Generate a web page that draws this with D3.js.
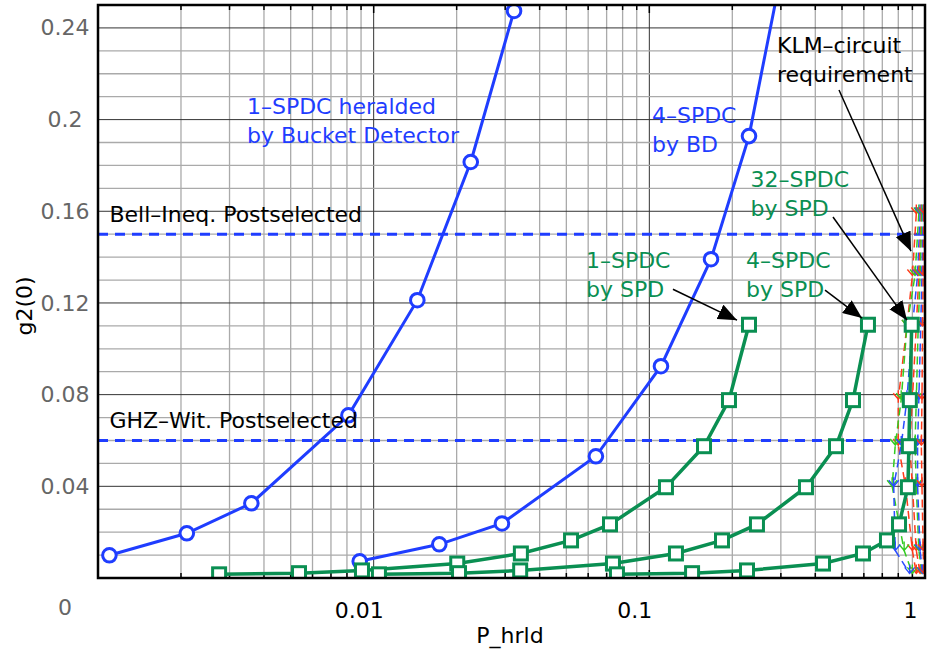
<!DOCTYPE html>
<html>
<head>
  <style>
    body { margin: 0; background: #fff; }
    text { font-family: "DejaVu Sans", sans-serif; font-size: 22px; }
    .minor { stroke: #aaa; stroke-width: 1.3px; }
    .major { stroke: #333; stroke-width: 1px; }
    .frame { fill: none; stroke: #000; stroke-width: 2.5px; }
    .cut { fill: none; stroke-width: 1.5px; stroke-dasharray: 8, 5; }
    .chev { fill: none; stroke-width: 1.4px; }
  </style>
</head>
<body>
  <script src="https://cdn.jsdelivr.net/npm/d3@7"></script>
  <script>
    var width = 928, height = 651;
    var blue = "#1f3dff", green = "#0a8f52";

    // 1-SPDC heralded by bucket detector
    var bd1X = [0.0011, 0.0021, 0.0036, 0.0081, 0.0144, 0.0225, 0.0323];
    var bd1Y = [0.0099, 0.0195, 0.0326, 0.0710, 0.1212, 0.1815, 0.2474];
    // 4-SPDC by BD (last point runs past the top)
    var bd4X = [0.0089, 0.0173, 0.0292, 0.0640, 0.1102, 0.1674, 0.2299, 0.308];
    var bd4Y = [0.0073, 0.0147, 0.0238, 0.0531, 0.0924, 0.1391, 0.1928, 0.27];

    // green squares share the same g2 levels
    var spdY = [0.0016, 0.0021, 0.0033, 0.0063, 0.0107, 0.0164, 0.0234, 0.0396, 0.0575, 0.0776, 0.1105];
    var spd1X = [0.00275, 0.00536, 0.00907, 0.0201, 0.0342, 0.0520, 0.0720, 0.1149, 0.1579, 0.1945, 0.2299];
    var spd4X = [0.01045, 0.0204, 0.0340, 0.0738, 0.1249, 0.1835, 0.2457, 0.370, 0.4755, 0.548, 0.621];
    var spd32X = [0.0763, 0.1429, 0.2261, 0.4266, 0.5957, 0.7278, 0.805, 0.867, 0.874, 0.881, 0.895];

    // dashed cut-off curves crowded near P_hrld = 1
    var cutY = [0.159, 0.132, 0.11, 0.078, 0.058, 0.04, 0.012, 0.002];
    var cutRed1 = [0.93, 0.90, 0.86, 0.80, 0.80, 0.85, 0.90, 0.93];
    var cutRed2 = [0.97, 0.95, 0.93, 0.90, 0.88, 0.90, 0.93, 0.96];
    var cutRed3 = [0.99, 0.985, 0.98, 0.975, 0.97, 0.975, 0.985, 0.99];
    var cutGreen1 = [0.95, 0.92, 0.86, 0.82, 0.78, 0.76, 0.84, 0.90];
    var cutGreen2 = [0.975, 0.96, 0.945, 0.93, 0.92, 0.93, 0.95, 0.975];
    var cutBlue1 = [0.96, 0.94, 0.90, 0.86, 0.82, 0.77, 0.78, 0.88];
    var cutBlue2 = [0.985, 0.975, 0.965, 0.95, 0.94, 0.94, 0.96, 0.98];

    var levels = [0.15, 0.06];
    var levelNames = ["Bell–Ineq. Postselected", "GHZ–Wit. Postselected"];

    var xTicks = [0.01, 0.1, 1];
    var yTicks = [0.04, 0.08, 0.12, 0.16, 0.2, 0.24];

    var svg = d3.select("body").append("svg")
        .attr("width", width)
        .attr("height", height);

    var x = d3.scaleLog().domain([0.001, 1]).range([98, 925]);
    var y = d3.scaleLinear().domain([0, 0.25]).range([578, 5]);

    svg.append("clipPath").attr("id", "clip")
      .append("rect")
        .attr("x", x(0.001)).attr("y", y(0.25))
        .attr("width", x(1) - x(0.001)).attr("height", y(0) - y(0.25));

    // grid
    var isDecade = d => Math.abs(Math.log10(d) - Math.round(Math.log10(d))) < 1e-9;
    var vx = x.ticks().filter(d => d > 0.001 && d < 1);
    svg.append("g").selectAll("line").data(vx).join("line")
        .attr("class", d => isDecade(d) ? "major" : "minor")
        .attr("x1", x).attr("x2", x)
        .attr("y1", y(0)).attr("y2", y(0.25));

    var hy = d3.range(1, 25).map(d => d / 100);
    svg.append("g").selectAll("line").data(hy).join("line")
        .attr("class", d => Math.round(d * 100) % 4 === 0 ? "major" : "minor")
        .attr("x1", x(0.001)).attr("x2", x(1))
        .attr("y1", y).attr("y2", y);

    // small inner ticks on top and bottom
    var tk = svg.append("g").attr("stroke", "#000").attr("stroke-width", 1.5);
    tk.selectAll(".tb").data(vx).join("line")
        .attr("x1", x).attr("x2", x)
        .attr("y1", y(0)).attr("y2", d => y(0) - (isDecade(d) ? 8 : 5));
    tk.selectAll(".tt").data(vx).join("line")
        .attr("x1", x).attr("x2", x)
        .attr("y1", y(0.25)).attr("y2", d => y(0.25) + (isDecade(d) ? 8 : 5));

    var plot = svg.append("g").attr("clip-path", "url(#clip)");

    // postselection levels
    plot.selectAll(".level").data(levels).join("line")
        .attr("x1", x(0.001)).attr("x2", x(1))
        .attr("y1", y).attr("y2", y)
        .attr("stroke", blue).attr("stroke-width", 3)
        .attr("stroke-dasharray", "10,7");

    // dashed cut-off curves
    var cuts = [
      {xs: cutRed1, c: "#ff3a1a"}, {xs: cutGreen1, c: "#33cc22"}, {xs: cutBlue1, c: "#2a4cff"},
      {xs: cutRed2, c: "#ff3a1a"}, {xs: cutGreen2, c: "#33cc22"}, {xs: cutBlue2, c: "#2a4cff"},
      {xs: cutRed3, c: "#ff3a1a"}
    ];
    var line = d3.line().x(d => x(d[0])).y(d => y(d[1]));
    cuts.forEach(function(s) {
      var pts = s.xs.map((v, i) => [v, cutY[i]]);
      plot.append("path").attr("class", "cut").attr("stroke", s.c).attr("d", line(pts));
      plot.append("g").selectAll("path").data(pts).join("path")
          .attr("class", "chev").attr("stroke", s.c)
          .attr("transform", d => "translate(" + x(d[0]) + "," + y(d[1]) + ")")
          .attr("d", "M-5,-6L0,0L5,-6M0,0V-9");
    });

    // circle series
    [[bd1X, bd1Y], [bd4X, bd4Y]].forEach(function(s) {
      var pts = s[0].map((v, i) => [v, s[1][i]]);
      plot.append("path").attr("d", line(pts))
          .attr("fill", "none").attr("stroke", blue).attr("stroke-width", 3);
      plot.append("g").selectAll("circle").data(pts).join("circle")
          .attr("cx", d => x(d[0])).attr("cy", d => y(d[1])).attr("r", 6.8)
          .attr("fill", "#fff").attr("stroke", blue).attr("stroke-width", 3);
    });

    // square series
    [spd1X, spd4X, spd32X].forEach(function(xs) {
      var pts = xs.map((v, i) => [v, spdY[i]]);
      plot.append("path").attr("d", line(pts))
          .attr("fill", "none").attr("stroke", green).attr("stroke-width", 3.5);
    });
    [spd1X, spd4X, spd32X].forEach(function(xs) {
      var pts = xs.map((v, i) => [v, spdY[i]]);
      plot.append("g").selectAll("rect").data(pts).join("rect")
          .attr("x", d => x(d[0]) - 6.5).attr("y", d => y(d[1]) - 6.5)
          .attr("width", 13).attr("height", 13)
          .attr("fill", "#fff").attr("stroke", green).attr("stroke-width", 3);
    });

    svg.append("rect").attr("class", "frame")
        .attr("x", x(0.001)).attr("y", y(0.25))
        .attr("width", x(1) - x(0.001)).attr("height", y(0) - y(0.25));

    // axes
    var xAxis = svg.append("g")
        .attr("transform", "translate(0," + y(0) + ")")
        .call(d3.axisBottom(x).tickValues(xTicks).tickSize(0).tickFormat(d3.format("~g")));
    xAxis.select(".domain").remove();
    xAxis.selectAll("text").attr("dy", 37).attr("dx", -15)
        .attr("fill", "#000").style("font-size", "22px").style("font-family", "DejaVu Sans");

    var yAxis = svg.append("g")
        .attr("transform", "translate(65,0)")
        .call(d3.axisLeft(y).tickValues(yTicks).tickSize(0).tickPadding(0).tickFormat(d3.format("~g")));
    yAxis.select(".domain").remove();
    yAxis.selectAll("text").attr("text-anchor", "middle").attr("fill", "#666")
        .style("font-size", "22px").style("font-family", "DejaVu Sans");

    svg.append("text").attr("x", 65).attr("y", y(0) + 37)
        .attr("text-anchor", "middle").attr("fill", "#666").text("0");

    svg.append("text").attr("x", 510).attr("y", 643)
        .attr("text-anchor", "middle").text("P_hrld");
    svg.append("text").attr("transform", "translate(32,306) rotate(-90)")
        .attr("text-anchor", "middle").text("g2(0)");

    // level labels
    svg.selectAll(".lvl").data(levels).join("text")
        .attr("x", x(0.0011)).attr("y", d => y(d) - 12)
        .text((d, i) => levelNames[i]);

    // annotations (data coordinates of the first line's baseline)
    var notes = [
      {lines: ["1–SPDC heralded", "by Bucket Detector"], x: 0.00347, y: 0.2024, c: blue},
      {lines: ["4–SPDC", "by BD"], x: 0.1022, y: 0.1985, c: blue},
      {lines: ["32–SPDC", "by SPD"], x: 0.233, y: 0.1706, c: green},
      {lines: ["1–SPDC", "by SPD"], x: 0.0589, y: 0.1352, c: green},
      {lines: ["4–SPDC", "by SPD"], x: 0.2242, y: 0.1352, c: green},
      {lines: ["KLM–circuit", "requirement"], x: 0.2904, y: 0.2291, c: "#000"}
    ];
    notes.forEach(function(n) {
      var t = svg.append("text").attr("fill", n.c)
          .attr("x", x(n.x)).attr("y", y(n.y));
      n.lines.forEach(function(s, i) {
        t.append("tspan").attr("x", x(n.x)).attr("dy", i ? 29 : 0).text(s);
      });
    });

    svg.append("defs").append("marker")
        .attr("id", "head").attr("markerUnits", "userSpaceOnUse")
        .attr("markerWidth", 20).attr("markerHeight", 16)
        .attr("refX", 19).attr("refY", 8).attr("orient", "auto")
      .append("path").attr("d", "M0,0L19,8L0,16Z").attr("fill", "#000");

    var arrows = [
      [[0.1218, 0.126], [0.208, 0.1125]],
      [[0.4338, 0.1256], [0.5907, 0.1134]],
      [[0.4637, 0.1575], [0.860, 0.1125]],
      [[0.4876, 0.2129], [0.8896, 0.1426]]
    ];
    svg.append("g").selectAll("path").data(arrows).join("path")
        .attr("d", line)
        .attr("stroke", "#000").attr("stroke-width", 1.5)
        .attr("marker-end", "url(#head)");
  </script>
</body>
</html>
